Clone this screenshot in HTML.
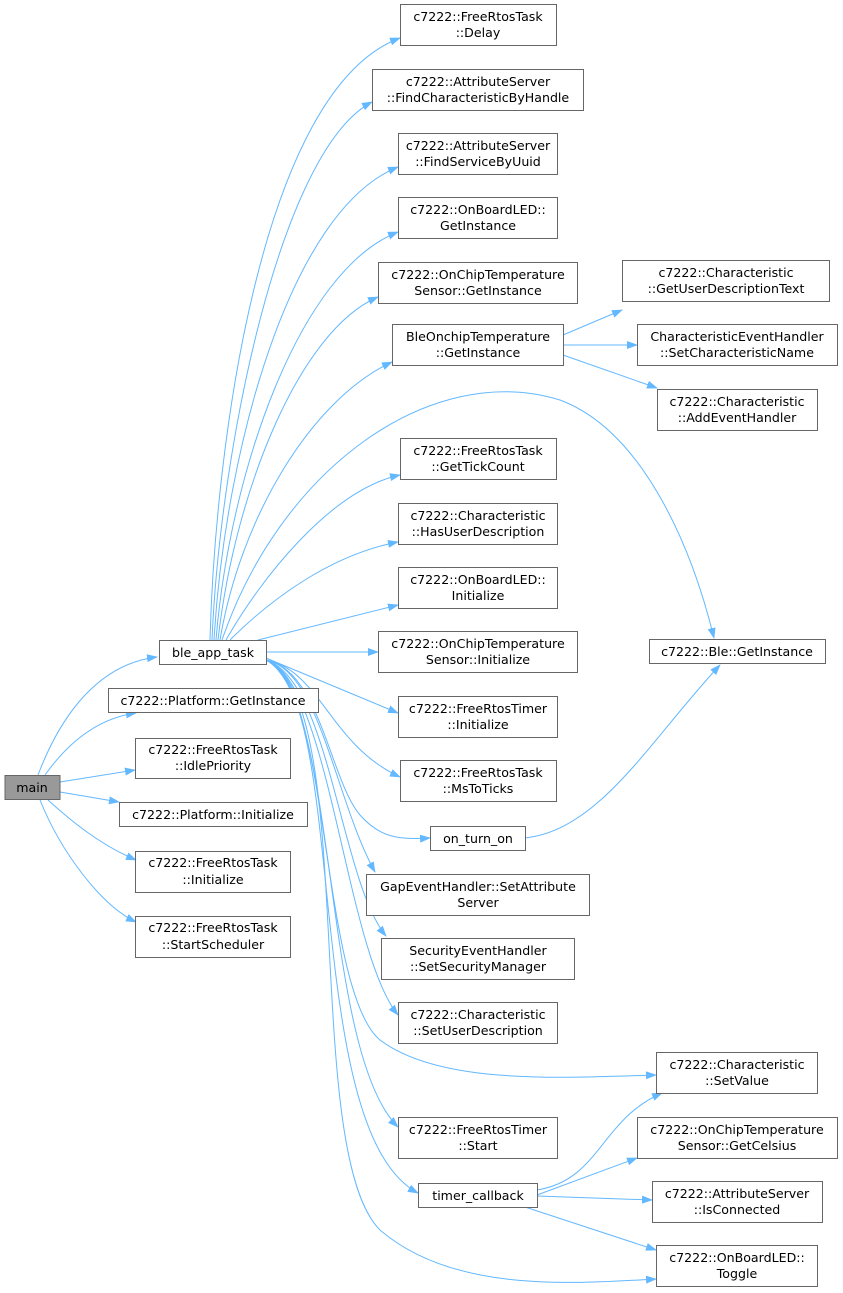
<!DOCTYPE html>
<html><head><meta charset="utf-8"><style>
html,body{margin:0;padding:0;background:#fff;width:843px;height:1293px;overflow:hidden}
text{font-family:"DejaVu Sans","Liberation Sans",sans-serif;font-size:12.6px;fill:#000;text-anchor:middle}
.b{fill:#fff;stroke:#666;stroke-width:1}
.e{fill:none;stroke:#63b8ff;stroke-width:1}
</style></head><body>
<svg width="843" height="1293" viewBox="0 0 843 1293" xmlns="http://www.w3.org/2000/svg">
<defs><marker id="a" markerUnits="userSpaceOnUse" markerWidth="11" markerHeight="8" refX="10" refY="4" orient="auto"><path d="M0,0 L11,4 L0,8 z" fill="#63b8ff"/></marker></defs>
<g marker-end="url(#a)">
<path class="e" d="M38,775 C55,730 90,665 157,657"/>
<path class="e" d="M45,775 C70,740 100,718 136,713"/>
<path class="e" d="M60,782 L135,770"/>
<path class="e" d="M60,792 L119,802"/>
<path class="e" d="M48,800 C70,820 100,845 136,860"/>
<path class="e" d="M40,800 C60,850 100,905 136,922"/>
<path class="e" d="M210,640 C215,450 260,90 400,38"/>
<path class="e" d="M212,640 C220,450 280,150 372,102"/>
<path class="e" d="M214,640 C225,450 290,210 398,167"/>
<path class="e" d="M216,640 C230,470 300,270 398,232"/>
<path class="e" d="M218,640 C235,490 300,330 378,297"/>
<path class="e" d="M220,640 C240,520 310,400 392,362"/>
<path class="e" d="M222,640 C280,470 430,360 560,400 C640,430 690,540 714,638"/>
<path class="e" d="M226,640 C260,580 330,490 400,475"/>
<path class="e" d="M230,640 C270,600 330,555 398,542"/>
<path class="e" d="M258,640 L398,605"/>
<path class="e" d="M266,652 L378,652"/>
<path class="e" d="M266,658 L398,713"/>
<path class="e" d="M266,660 C320,670 330,745 400,777"/>
<path class="e" d="M266,660 C320,670 330,780 360,815 C380,838 400,840 430,838"/>
<path class="e" d="M266,660 C320,670 335,800 375,872"/>
<path class="e" d="M266,660 C330,680 340,880 386,936"/>
<path class="e" d="M266,660 C330,680 345,950 398,1015"/>
<path class="e" d="M266,660 C330,680 320,990 380,1040 C440,1085 560,1078 656,1075"/>
<path class="e" d="M266,660 C340,700 320,1050 398,1127"/>
<path class="e" d="M266,660 C350,700 300,1130 418,1193"/>
<path class="e" d="M266,660 C360,700 300,1150 380,1230 C450,1290 560,1285 656,1279"/>
<path class="e" d="M563,335 L622,310"/>
<path class="e" d="M563,345 L637,345"/>
<path class="e" d="M563,355 L657,388"/>
<path class="e" d="M525,838 C600,830 650,740 720,665"/>
<path class="e" d="M537,1190 C600,1180 600,1120 662,1093"/>
<path class="e" d="M537,1195 L637,1158"/>
<path class="e" d="M537,1196 L652,1200"/>
<path class="e" d="M525,1207 L656,1250"/>
</g>
<rect x="5" y="775.5" width="55" height="24" fill="#999" stroke="#666"/><text x="32" y="792">main</text>
<rect class="b" x="159.5" y="640.5" width="107" height="24"/><text x="213" y="657">ble_app_task</text>
<rect class="b" x="108.5" y="688.5" width="210" height="24"/><text x="213" y="705">c7222::Platform::GetInstance</text>
<rect class="b" x="135.5" y="738.5" width="155" height="40"/><text x="213" y="754">c7222::FreeRtosTask</text><text x="213" y="770">::IdlePriority</text>
<rect class="b" x="119.5" y="802.5" width="188" height="24"/><text x="213" y="819">c7222::Platform::Initialize</text>
<rect class="b" x="135.5" y="851.5" width="155" height="41"/><text x="213" y="867">c7222::FreeRtosTask</text><text x="213" y="884">::Initialize</text>
<rect class="b" x="135.5" y="916.5" width="155" height="41"/><text x="213" y="932">c7222::FreeRtosTask</text><text x="213" y="949">::StartScheduler</text>

<rect class="b" x="400.5" y="4.5" width="156" height="41"/><text x="478" y="21">c7222::FreeRtosTask</text><text x="478" y="37">::Delay</text>
<rect class="b" x="372.5" y="69.5" width="211" height="41"/><text x="478" y="86">c7222::AttributeServer</text><text x="478" y="102">::FindCharacteristicByHandle</text>
<rect class="b" x="398.5" y="133.5" width="159" height="41"/><text x="478" y="150">c7222::AttributeServer</text><text x="478" y="166">::FindServiceByUuid</text>
<rect class="b" x="398.5" y="197.5" width="159" height="41"/><text x="478" y="214">c7222::OnBoardLED::</text><text x="478" y="230">GetInstance</text>
<rect class="b" x="378.5" y="262.5" width="199" height="41"/><text x="478" y="279">c7222::OnChipTemperature</text><text x="478" y="295">Sensor::GetInstance</text>
<rect class="b" x="392.5" y="324.5" width="171" height="41"/><text x="478" y="341">BleOnchipTemperature</text><text x="478" y="357">::GetInstance</text>
<rect class="b" x="400.5" y="438.5" width="156" height="41"/><text x="478" y="455">c7222::FreeRtosTask</text><text x="478" y="471">::GetTickCount</text>
<rect class="b" x="398.5" y="503.5" width="159" height="41"/><text x="478" y="520">c7222::Characteristic</text><text x="478" y="536">::HasUserDescription</text>
<rect class="b" x="398.5" y="567.5" width="159" height="41"/><text x="478" y="584">c7222::OnBoardLED::</text><text x="478" y="600">Initialize</text>
<rect class="b" x="378.5" y="631.5" width="199" height="41"/><text x="478" y="648">c7222::OnChipTemperature</text><text x="478" y="664">Sensor::Initialize</text>
<rect class="b" x="398.5" y="696.5" width="159" height="41"/><text x="478" y="713">c7222::FreeRtosTimer</text><text x="478" y="729">::Initialize</text>
<rect class="b" x="400.5" y="760.5" width="156" height="41"/><text x="478" y="777">c7222::FreeRtosTask</text><text x="478" y="793">::MsToTicks</text>
<rect class="b" x="430.5" y="826.5" width="95" height="24"/><text x="478" y="843">on_turn_on</text>
<rect class="b" x="366.5" y="874.5" width="223" height="41"/><text x="478" y="891">GapEventHandler::SetAttribute</text><text x="478" y="907">Server</text>
<rect class="b" x="381.5" y="938.5" width="193" height="41"/><text x="478" y="955">SecurityEventHandler</text><text x="478" y="971">::SetSecurityManager</text>
<rect class="b" x="398.5" y="1002.5" width="159" height="41"/><text x="478" y="1019">c7222::Characteristic</text><text x="478" y="1035">::SetUserDescription</text>
<rect class="b" x="398.5" y="1117.5" width="159" height="41"/><text x="478" y="1134">c7222::FreeRtosTimer</text><text x="478" y="1150">::Start</text>
<rect class="b" x="418.5" y="1183.5" width="119" height="24"/><text x="478" y="1200">timer_callback</text>

<rect class="b" x="622.5" y="260.5" width="207" height="41"/><text x="726" y="277">c7222::Characteristic</text><text x="726" y="293">::GetUserDescriptionText</text>
<rect class="b" x="637.5" y="324.5" width="200" height="41"/><text x="737" y="341">CharacteristicEventHandler</text><text x="737" y="357">::SetCharacteristicName</text>
<rect class="b" x="657.5" y="389.5" width="160" height="41"/><text x="737" y="406">c7222::Characteristic</text><text x="737" y="422">::AddEventHandler</text>
<rect class="b" x="649.5" y="639.5" width="176" height="24"/><text x="737" y="656">c7222::Ble::GetInstance</text>
<rect class="b" x="656.5" y="1052.5" width="161" height="41"/><text x="737" y="1069">c7222::Characteristic</text><text x="737" y="1085">::SetValue</text>
<rect class="b" x="637.5" y="1117.5" width="200" height="41"/><text x="737" y="1134">c7222::OnChipTemperature</text><text x="737" y="1150">Sensor::GetCelsius</text>
<rect class="b" x="652.5" y="1181.5" width="170" height="41"/><text x="737" y="1198">c7222::AttributeServer</text><text x="737" y="1214">::IsConnected</text>
<rect class="b" x="656.5" y="1245.5" width="161" height="41"/><text x="737" y="1262">c7222::OnBoardLED::</text><text x="737" y="1278">Toggle</text>
</svg>
</body></html>
